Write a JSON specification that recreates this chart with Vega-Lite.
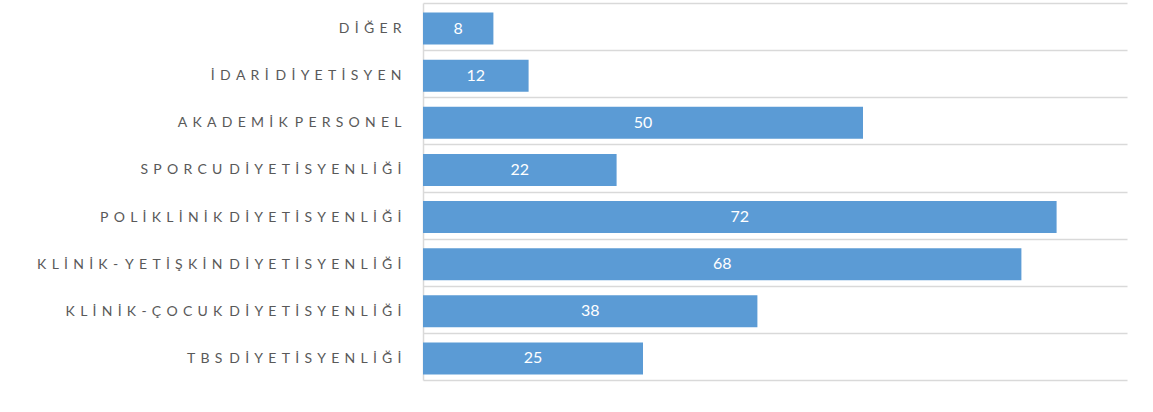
{
  "$schema": "https://vega.github.io/schema/vega-lite/v6.json",
  "autosize": {"type": "none"},
  "padding": {"left": 423, "top": 3, "right": 26, "bottom": 32},
  "width": 704,
  "height": 377,
  "background": "white",
  "data": {
    "values": [
      {"kategori": "DİĞER", "sayi": 8},
      {"kategori": "İDARİ DİYETİSYEN", "sayi": 12},
      {"kategori": "AKADEMİK PERSONEL", "sayi": 50},
      {"kategori": "SPORCU DİYETİSYENLİĞİ", "sayi": 22},
      {"kategori": "POLİKLİNİK DİYETİSYENLİĞİ", "sayi": 72},
      {"kategori": "KLİNİK- YETİŞKİN DİYETİSYENLİĞİ", "sayi": 68},
      {"kategori": "KLİNİK-ÇOCUK DİYETİSYENLİĞİ", "sayi": 38},
      {"kategori": "TBS DİYETİSYENLİĞİ", "sayi": 25}
    ]
  },
  "encoding": {
    "y": {
      "field": "kategori",
      "type": "nominal",
      "sort": null,
      "scale": {"paddingInner": 0, "paddingOuter": 0},
      "axis": {
        "title": null,
        "grid": true,
        "gridColor": "#D9D9D9",
        "gridWidth": 1.5,
        "tickBand": "extent",
        "ticks": false,
        "domain": true,
        "domainColor": "#D9D9D9",
        "domainWidth": 1.5,
        "labelFont": "Lato",
        "labelFontSize": 14,
        "labelColor": "#595959",
        "labelPadding": 22,
        "labelLimit": 0,
        "labelOffset": 2,
        "labelExpr": "join(split(join(split(datum.label, ''), '\u2005\u2009'), '\u2005\u2009 \u2005\u2009'), '\u2002')"
      }
    }
  },
  "layer": [
    {
      "mark": {"type": "bar", "color": "#5B9BD5", "height": {"band": 0.68}, "yOffset": 2},
      "encoding": {
        "x": {
          "field": "sayi",
          "type": "quantitative",
          "scale": {"domain": [0, 80], "nice": false},
          "axis": null
        }
      }
    },
    {
      "mark": {"type": "text", "color": "white", "font": "Lato", "fontSize": 16, "baseline": "middle", "align": "center", "yOffset": 2},
      "encoding": {
        "x": {
          "field": "sayi",
          "type": "quantitative",
          "scale": {"domain": [0, 160], "nice": false},
          "axis": null
        },
        "text": {"field": "sayi", "type": "quantitative"}
      }
    }
  ],
  "resolve": {"scale": {"x": "independent"}},
  "config": {"view": {"stroke": null}}
}
